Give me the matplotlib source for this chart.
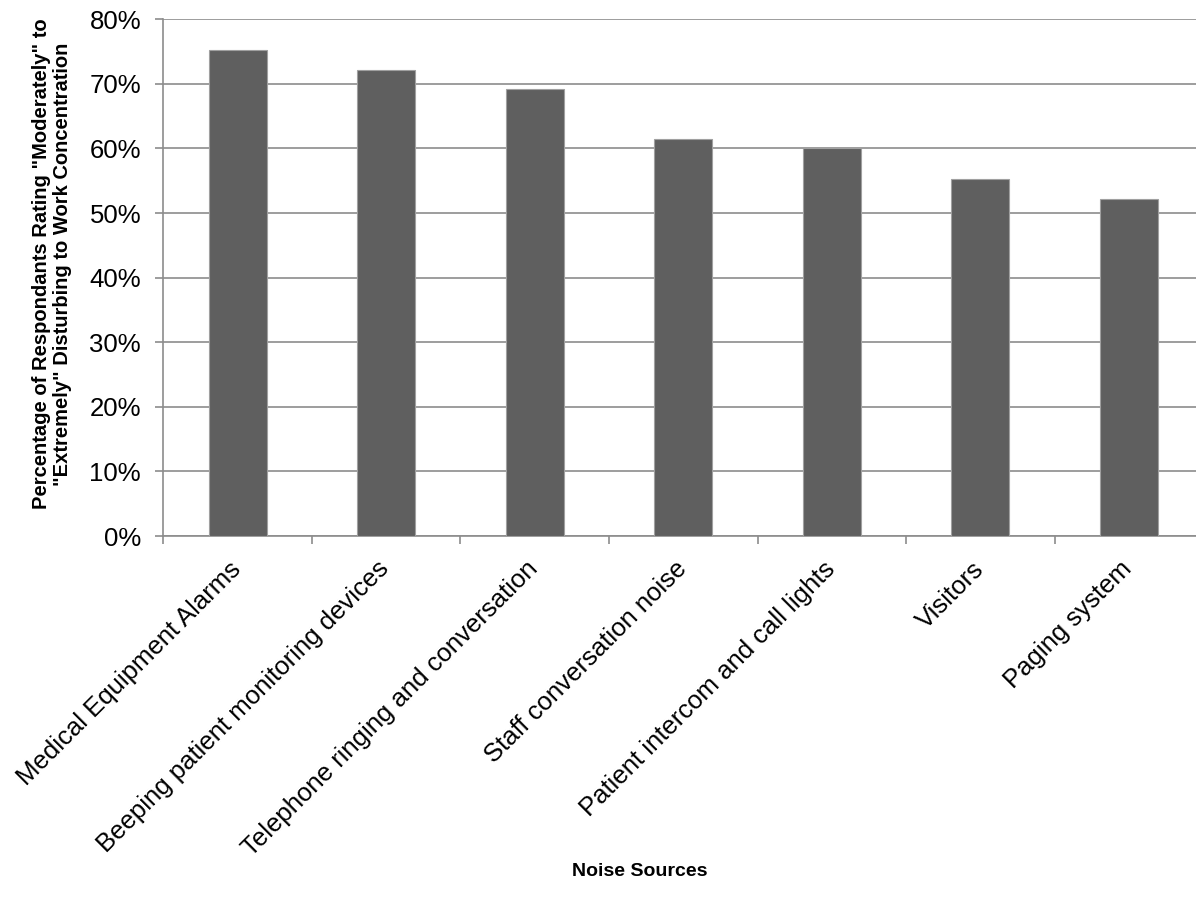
import numpy as np
import matplotlib
matplotlib.use("Agg")
import matplotlib.pyplot as plt
import matplotlib.transforms as mtransforms


sources = ["Medical Equipment Alarms", "Beeping patient monitoring devices",
           "Telephone ringing and conversation", "Staff conversation noise",
           "Patient intercom and call lights", "Visitors", "Paging system"]
pct = [75.3, 72.2, 69.2, 61.5, 60.0, 55.3, 52.2]
yticks = [0, 10, 20, 30, 40, 50, 60, 70, 80]

plt.rcParams['font.family'] = ['Liberation Sans', 'DejaVu Sans']

fig = plt.figure(figsize=(11.96, 9.09), dpi=100)
W, H = 1196, 909
# plot area runs a bit past the right edge, like the original
ax = fig.add_axes([163.3 / W, 1 - 536 / H, 1040 / W, (536 - 19.3) / H])

x = np.arange(len(sources))
ax.bar(x, pct, width=0.39, color='#5f5f5f', edgecolor='#a0a0a0', linewidth=0.8, zorder=3)

ax.set_xlim(-0.5, len(sources) - 0.5)
ax.set_ylim(0, 80)
ax.set_yticks(yticks)
ax.set_yticklabels([f"{v}%" for v in yticks], fontsize=18.5)
ax.yaxis.grid(True, color='#8c8c8c', linewidth=1.2, zorder=0)

# ticks at category boundaries, labels at category centers
ax.set_xticks(np.arange(len(sources) + 1) - 0.5)
ax.set_xticklabels([])
ax.set_xticks(x, minor=True)
ax.set_xticklabels(sources, minor=True, rotation=45, ha='right', va='top',
                   rotation_mode='anchor', fontsize=18.5)
ax.tick_params(axis='x', which='minor', length=0, pad=15)
ax.tick_params(axis='x', which='major', length=6, color='#8c8c8c', width=1.2)
ax.tick_params(axis='y', length=6, color='#8c8c8c', width=1.2, pad=10)

offset = mtransforms.ScaledTranslation(-0.09, 0, fig.dpi_scale_trans)
for lab in ax.get_xticklabels(minor=True):
    lab.set_transform(lab.get_transform() + offset)

for s in ['top', 'right']:
    ax.spines[s].set_visible(False)
for s in ['left', 'bottom']:
    ax.spines[s].set_color('#8c8c8c')
    ax.spines[s].set_linewidth(1.2)

fig.text(52 / W, 1 - 264 / H,
         'Percentage of Respondants Rating "Moderately" to\n'
         '"Extremely" Disturbing to Work Concentration',
         rotation=90, ha='center', va='center', multialignment='center',
         fontsize=14.5, fontweight='bold', linespacing=1.12)
fig.text(640 / W, 1 - 871 / H, "Noise Sources", ha='center', va='center',
         fontsize=14, fontweight='bold')

fig.savefig("out.png", dpi=100)
